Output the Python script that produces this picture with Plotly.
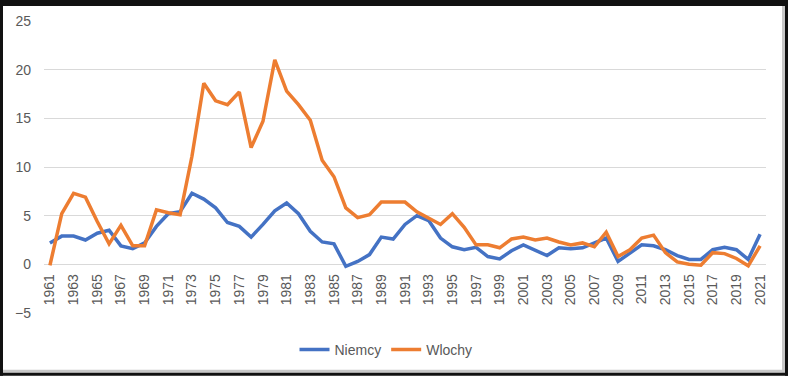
import plotly.graph_objects as go

years = list(range(1961, 2022))
niemcy = [2.2, 2.9, 2.9, 2.5, 3.2, 3.5, 1.9, 1.6, 2.2, 3.9,
          5.2, 5.4, 7.3, 6.7, 5.8, 4.3, 3.9, 2.8, 4.1, 5.5,
          6.3, 5.2, 3.4, 2.3, 2.1, -0.2, 0.3, 1.0, 2.8, 2.6,
          4.1, 5.0, 4.5, 2.7, 1.8, 1.5, 1.75, 0.8, 0.55, 1.4,
          2.0, 1.4, 0.9, 1.7, 1.6, 1.7, 2.2, 2.7, 0.3, 1.15,
          2.0, 1.9, 1.5, 0.9, 0.5, 0.5, 1.5, 1.75, 1.5, 0.5,
          3.1]
wlochy = [-0.1, 5.2, 7.3, 6.9, 4.4, 2.1, 4.0, 1.9, 1.9, 5.6,
          5.3, 5.1, 11.1, 18.6, 16.8, 16.4, 17.7, 12.0, 14.7, 21.0,
          17.8, 16.4, 14.8, 10.7, 9.0, 5.8, 4.8, 5.1, 6.4, 6.4,
          6.4, 5.4, 4.8, 4.1, 5.2, 3.8, 2.0, 2.0, 1.7, 2.6,
          2.8, 2.5, 2.7, 2.3, 2.0, 2.2, 1.8, 3.3, 0.8, 1.5,
          2.7, 3.0, 1.2, 0.25, 0.0, -0.1, 1.2, 1.1, 0.6, -0.15,
          1.9]
tick_years = list(range(1961, 2022, 2))
y_ticks = [-5, 0, 5, 10, 15, 20, 25]

W, H = 788, 377
ml, mr, mt, mb = 44, 22, 21, 63
pw, ph = W - ml - mr, H - mt - mb

font = dict(family="Liberation Sans, Arial, sans-serif", size=14, color="#595959")

fig = go.Figure()
fig.add_trace(go.Scatter(x=years, y=niemcy, mode="lines", name="Niemcy",
                         line=dict(color="#4472C4", width=3.5)))
fig.add_trace(go.Scatter(x=years, y=wlochy, mode="lines", name="Wlochy",
                         line=dict(color="#ED7D31", width=3.5)))

ymin, ymax = -5, 25
zero_pos = (0 - ymin) / (ymax - ymin)


def px_x(v):
    return (v - ml) / pw


def px_y(v):
    return (H - mb - v) / ph


def box(x0, y0, x1, y1, color):
    return dict(type="rect", xref="paper", yref="paper",
                x0=px_x(x0), x1=px_x(x1), y0=px_y(y1), y1=px_y(y0),
                fillcolor=color, line=dict(width=0), layer="above")


shapes = [
    box(W - 6, 3, W - 3, H - 3, "#C8C8C8"),
    box(3, H - 6, W - 3, H - 3, "#C8C8C8"),
    box(0, 0, W, 6, "#111111"),
    box(0, H - 3, W, H, "#111111"),
    box(0, 0, 3, H, "#111111"),
    box(W - 3, 0, W, H, "#111111"),
]

fig.update_layout(
    width=W, height=H,
    margin=dict(l=ml, r=mr, t=mt, b=mb),
    paper_bgcolor="white", plot_bgcolor="white",
    font=font,
    showlegend=True,
    legend=dict(orientation="h", x=px_x(386), xanchor="center", y=px_y(350), yanchor="middle",
                font=font, tracegroupgap=0),
    shapes=shapes,
    xaxis=dict(range=[1960.5, 2021.5], tickmode="array", tickvals=tick_years,
               ticktext=[str(y) for y in tick_years], tickangle=-90,
               showgrid=False, zeroline=False, showline=False, ticks="",
               anchor="free", position=zero_pos, ticklabelstandoff=6),
    yaxis=dict(range=[ymin, ymax], tickvals=y_ticks, showgrid=True,
               gridcolor="#D9D9D9", gridwidth=1, zeroline=False, showline=False,
               ticks="", ticklabelstandoff=12),
)

fig.write_html("out.html", config={"displayModeBar": False},
               post_script="document.body.style.margin='0';document.body.style.overflow='hidden';"
                           "document.documentElement.style.overflow='hidden';"
                           "window.scrollTo(0,0);")
